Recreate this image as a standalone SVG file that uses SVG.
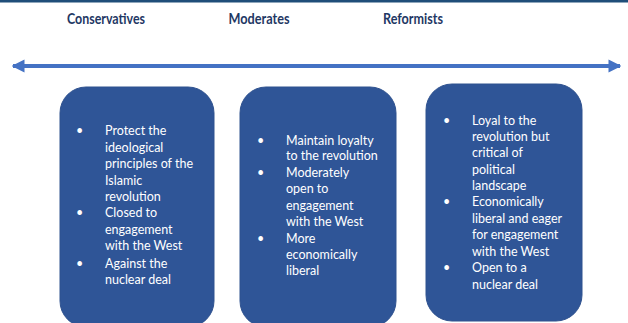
<svg xmlns="http://www.w3.org/2000/svg" width="628" height="323" viewBox="0 0 628 323">
  <style>
    .hdr { font-family: Lato, "Liberation Sans", sans-serif; font-weight: bold; font-size: 14.5px; fill: #1f3864; text-anchor: middle; }
    .box { fill: #2f5597; stroke: #2f528f; stroke-width: 1; }
    .txt { font-family: Lato, "Liberation Sans", sans-serif; font-size: 12.5px; fill: #ffffff; }
  </style>
  <defs>
    <marker id="head" viewBox="0 0 10 10" refX="9" refY="5" markerWidth="3.2" markerHeight="3.6" orient="auto-start-reverse" markerUnits="strokeWidth">
      <path d="M0,0 L10,5 L0,10 Z" fill="#4472c4"/>
    </marker>
  </defs>
  <rect width="628" height="323" fill="#ffffff"/>
  <rect x="0" y="0" width="628" height="2.5" fill="#1f4e79"/>

  <g id="headers">
    <text class="hdr" x="106" y="24" textLength="78" lengthAdjust="spacingAndGlyphs">Conservatives</text>
    <text class="hdr" x="259" y="24" textLength="61" lengthAdjust="spacingAndGlyphs">Moderates</text>
    <text class="hdr" x="413" y="24" textLength="60" lengthAdjust="spacingAndGlyphs">Reformists</text>
  </g>

  <g id="connectors">
    <line x1="13" y1="66" x2="620" y2="66" stroke="#4472c4" stroke-width="4" marker-start="url(#head)" marker-end="url(#head)"/>
  </g>

  <g id="conservatives">
    <rect class="box" x="60" y="87" width="154" height="240" rx="26"/>
    <g class="txt">
      <text x="76" y="135">•</text>
      <text x="105" y="135">Protect the</text>
      <text x="105" y="152">ideological</text>
      <text x="105" y="168">principles of the</text>
      <text x="105" y="185">Islamic</text>
      <text x="105" y="201">revolution</text>
      <text x="76" y="217">•</text>
      <text x="105" y="217">Closed to</text>
      <text x="105" y="234">engagement</text>
      <text x="105" y="250">with the West</text>
      <text x="76" y="268">•</text>
      <text x="105" y="268">Against the</text>
      <text x="105" y="284">nuclear deal</text>
    </g>
  </g>

  <g id="moderates">
    <rect class="box" x="240" y="87" width="156" height="240" rx="26"/>
    <g class="txt">
      <text x="257" y="145">•</text>
      <text x="286" y="145">Maintain loyalty</text>
      <text x="286" y="160">to the revolution</text>
      <text x="257" y="177">•</text>
      <text x="286" y="177">Moderately</text>
      <text x="286" y="193">open to</text>
      <text x="286" y="210">engagement</text>
      <text x="286" y="226">with the West</text>
      <text x="257" y="243">•</text>
      <text x="286" y="243">More</text>
      <text x="286" y="259">economically</text>
      <text x="286" y="275">liberal</text>
    </g>
  </g>

  <g id="reformists">
    <rect class="box" x="426" y="84" width="156" height="237" rx="26"/>
    <g class="txt">
      <text x="443" y="125">•</text>
      <text x="472" y="125">Loyal to the</text>
      <text x="472" y="141">revolution but</text>
      <text x="472" y="157">critical of</text>
      <text x="472" y="174">political</text>
      <text x="472" y="190">landscape</text>
      <text x="443" y="206">•</text>
      <text x="472" y="206">Economically</text>
      <text x="472" y="223">liberal and eager</text>
      <text x="472" y="239">for engagement</text>
      <text x="472" y="256">with the West</text>
      <text x="443" y="272">•</text>
      <text x="472" y="272">Open to a</text>
      <text x="472" y="289">nuclear deal</text>
    </g>
  </g>
</svg>
